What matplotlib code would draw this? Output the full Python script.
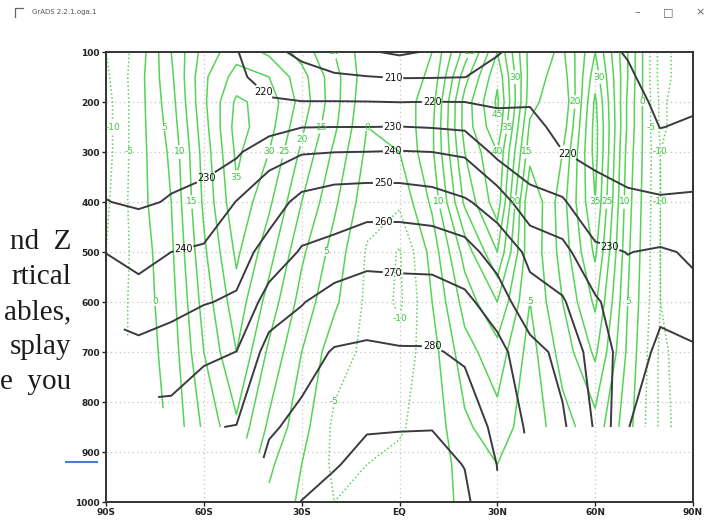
import numpy as np
import matplotlib.pyplot as plt
from matplotlib.lines import Line2D

nan = np.nan
lats = np.arange(-90, 91, 10)
levels = [100, 150, 200, 250, 300, 400, 500, 600, 700, 850, 925, 1000]

# zonal mean temperature (K), one row per latitude from 90S to 90N,
# columns follow `levels`; nan = below ground / no data
temp_rows = [
    [221, 224, 226, 226.5, 227, 230.2, 239.8, 247, nan, nan, nan, nan],
    [221.5, 224, 226, 226, 226.5, 229, 236, 245, 252.5, nan, nan, nan],
    [221, 223, 225.5, 226, 227.5, 230.5, 240, 248, 253, 265, nan, nan],
    [221, 222, 224.5, 225, 227, 232.5, 241.5, 249.5, 257.8, 269.5, nan, nan],
    [220.5, 221, 223, 226, 228.5, 240.3, 246, 251.2, 260.1, 270.3, nan, nan],
    [213, 218, 220.5, 226, 236.7, 245.5, 253.5, 264.3, 273.8, 279, 282, 285],
    [207.5, 214, 220.2, 229.8, 239.3, 252.7, 261, 269.4, 277, 282, 286, 290.2],
    [204, 211.2, 220.3, 230, 239.9, 255.4, 262.5, 274.6, 280.6, 286, 289.5, 292.5],
    [201, 210.3, 220.2, 230, 240.1, 256.1, 265.8, 276.8, 281, 289.5, 292, 295],
    [198.5, 209.5, 219.9, 230.2, 240.5, 255.8, 266.3, 275, 280.7, 289.5, 293.5, 297],
    [201, 209.6, 220.1, 229.6, 240, 254.3, 266.2, 274.6, 280.7, 289.7, 293, 296],
    [204, 209.9, 220, 228.5, 238.6, 251.1, 263.8, 272.1, 278.8, 284.8, 289.7, 292],
    [209.5, 212.5, 219, 223, 227.2, 246, 255.5, 265.5, 273, 278, 279.8, 281],
    [213, 215, 219.5, 222, 225, 232.7, 248.2, 252.7, 263.9, 268, nan, nan],
    [214, 215.5, 216, 218, 220.1, 231.1, 243.1, 251, 257, 261.5, nan, nan],
    [212, 213.5, 215, 216.5, 218.5, 222.5, 232, 241.4, 246, 249, nan, nan],
    [209.5, 211, 213.5, 215.5, 217.5, 221, 229.8, 233.5, 235, 230.2, nan, nan],
    [206, 207, 208, 209.8, 214, 221, 231, 232, 228, 226, nan, nan],
    [207, 207, 208.5, 211.2, 215, 221.3, 229, 232, 229.5, 226, nan, nan],
]

# zonal wind (m/s), same layout
wind_rows = [
    [-10, -11, -12, -12, -12, -11, -10, -9, nan, nan, nan, nan],
    [-3, -2, -2, -2, -2, -2, -3, -3, -3, nan, nan, nan],
    [10, 9, 8, 7, 6, 5, 4, 3, 2, 1, nan, nan],
    [22, 24, 24, 23, 22, 21, 19, 17, 15, 11, nan, nan],
    [28, 32, 36, 37, 36, 34, 31, 28, 25, 19, nan, nan],
    [24, 30, 33, 32, 30, 26, 22, 18, 14, 9, 6, 4],
    [18, 22, 23, 21, 19, 15, 11, 8, 5, 2, 0, -1],
    [10, 12, 12, 11, 9, 6, 3, 1, -3, -6, -6, -5],
    [2, 2, 1, 0, -1, -3, -5.5, -6, -6, -6, -5, -4],
    [3, 2, 2, 1, 0, -4, -10.5, -11, -8, -5.5, -4, -2],
    [5, 6, 8, 9, 9, 6, 2, 0, -2, -3, -3, -2],
    [22, 28, 32, 32, 30, 26, 17, 12, 8, 4, 2, 1],
    [40, 44, 46, 44, 40, 38, 30, 20, 13, 8, 5, 3],
    [18, 18, 17, 14, 12, 5, 6, 5, 3, 2, nan, nan],
    [14, 12, 10, 12, 15, 18, 17, 15, 12, 8, nan, nan],
    [30, 33, 36, 37, 37, 35, 31, 26, 21, 13, nan, nan],
    [10, 10, 9, 9, 8, 7, 6, 5, 4, 2, nan, nan],
    [-12, -12, -11, -11, -10, -10, -10, -10, -11, -11, nan, nan],
    [-6, -6, -6, -6, -7, -7, -7, -7, -7, -8, nan, nan],
]

xticks = [-90, -60, -30, 0, 30, 60, 90]
xlabels = ["90S", "60S", "30S", "EQ", "30N", "60N", "90N"]
yticks = list(range(100, 1001, 100))

# where the temperature labels sit (latitude, contour value)
temp_label_spots = [(-2, 210), (10, 220), (-43, 220), (52, 220), (-2, 230),
                    (-59, 230), (65, 230), (-2, 240), (-66, 240), (-5, 250),
                    (-5, 260), (-2, 270), (10, 280)]

side_text = ["nd  Z", "rtical", "ables,", "splay", "e  you"]

temp = np.ma.masked_invalid(np.array(temp_rows).T)
wind = np.ma.masked_invalid(np.array(wind_rows).T)

W, H = 718, 525
fig = plt.figure(figsize=(W / 100, H / 100), dpi=100)
fig.patch.set_facecolor("white")
ax = fig.add_axes([106 / W, 1 - 502 / H, (693 - 106) / W, (502 - 52) / H])

ulev = np.arange(-10, 50, 5)
green = "#55d455"
cs_u = ax.contour(lats, levels, wind, levels=ulev, colors=green,
                  linewidths=1.1,
                  linestyles=[(0, (1, 1.6)) if v < 0 else "-" for v in ulev])
ulabels = ax.clabel(cs_u, fmt="%d", fontsize=6.5, inline=True,
                    inline_spacing=1, colors="#3fc43f")

tlev = np.arange(200, 300, 10)
dark = "#3c3941"
cs_t = ax.contour(lats, levels, temp, levels=tlev, colors=dark, linewidths=1.4)


def crossing(lat, val):
    col = np.array(temp_rows[int(np.argmin(np.abs(lats - lat)))])
    for k in range(len(levels) - 1):
        a, b = col[k], col[k + 1]
        if np.isnan(a) or np.isnan(b):
            continue
        if (a - val) * (b - val) <= 0 and a != b:
            return levels[k] + (val - a) / (b - a) * (levels[k + 1] - levels[k])
    return levels[0]


spots = [(lat, crossing(lat, v)) for lat, v in temp_label_spots]
tlabels = ax.clabel(cs_t, fmt="%d", fontsize=7, inline=True, inline_spacing=1,
                    manual=spots, colors="#111111")

# GrADS writes contour labels upright
for t in list(ulabels) + list(tlabels):
    t.set_rotation(0)

ax.set_xlim(-90, 90)
ax.set_ylim(1000, 100)
ax.set_xticks(xticks)
ax.set_xticklabels(xlabels)
ax.set_yticks(yticks)
ax.grid(True, color="#c4c4c4", linestyle=(0, (1, 2.5)), linewidth=0.9)
ax.set_axisbelow(True)
ax.tick_params(direction="out", length=3, width=1, labelsize=6.5, pad=1.5,
               colors="#222222")
for lab in ax.get_xticklabels() + ax.get_yticklabels():
    lab.set_fontweight("bold")
for sp in ax.spines.values():
    sp.set_linewidth(1.4)
    sp.set_color("#333333")

# drop wind labels that collide with temperature labels
fig.canvas.draw()
rend = fig.canvas.get_renderer()
tboxes = [t.get_window_extent(rend).expanded(1.1, 1.2) for t in tlabels]
for t in list(ulabels):
    box = t.get_window_extent(rend)
    if any(box.overlaps(b) for b in tboxes):
        t.set_visible(False)

# slide text peeking out behind the window
for i, s in enumerate(side_text):
    fig.text(71 / W, 1 - (242 + 35 * i) / H, s, ha="right", va="center",
             fontsize=21, family="Liberation Serif", color="#1c1c1c")
fig.add_artist(Line2D([66 / W, 97 / W], [1 - 462 / H] * 2, color="#4a7bd6",
                      lw=1.5))

# window title bar
fig.add_artist(Line2D([15 / W, 15 / W, 23 / W], [1 - 17 / H, 1 - 8 / H, 1 - 8 / H],
                      color="#666666", lw=0.9))
fig.text(32 / W, 1 - 12 / H, "GrADS 2.2.1.oga.1", fontsize=5, color="#555555",
         va="center")
for x, s in [(637, "\u2013"), (668, "\u25a1"), (700, "\u00d7")]:
    fig.text(x / W, 1 - 12 / H, s, fontsize=8, color="#666666", ha="center",
             va="center")

fig.savefig("out.png", dpi=100, facecolor="white")
